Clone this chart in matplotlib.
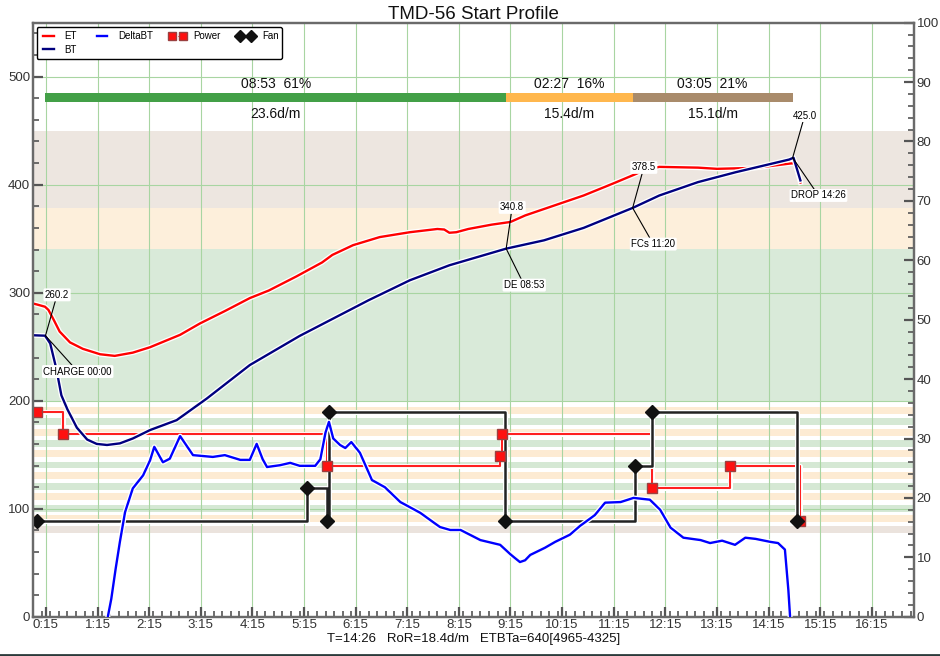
import matplotlib
matplotlib.use("Agg")
import matplotlib.pyplot as plt
import matplotlib.patheffects as pe
from matplotlib.ticker import MultipleLocator, FuncFormatter
from matplotlib.lines import Line2D

plt.rcParams['font.family'] = ['Liberation Sans', 'DejaVu Sans']

# --- curves (time in seconds) ---
et_time = [0, 5, 14, 18, 24, 31, 43, 58, 78, 95, 116, 136, 171, 194, 223, 252, 274, 306, 336, 348,
           372, 403, 438, 470, 478, 484, 492, 506, 533, 555, 572, 594, 640, 674, 701, 712, 728, 773,
           795, 840, 879, 886, 892]
et_temp = [290, 289, 287, 284, 275, 264, 254, 248, 243, 241.5, 244.5, 249.5, 261, 271.5, 283, 295, 302,
           315, 328, 335, 344, 351.5, 356, 359, 358.5, 355.5, 356, 359, 363, 365.5, 371.5, 377.5, 390,
           401, 410, 414, 416.5, 415.8, 414.7, 415.6, 419.5, 420, 402]

bt_time = [0, 14, 20, 27, 33, 40, 51, 63, 74, 86, 101, 116, 136, 167, 202, 252, 310, 390, 438, 484,
           550, 594, 640, 697, 728, 773, 817, 879, 884, 892]
bt_temp = [260.6, 260.2, 253, 230, 205, 192, 175, 164, 160, 159, 160.5, 165, 172.8, 182, 202, 233, 260,
           293, 311.5, 325.4, 340.8, 348.5, 360, 378.5, 390, 402.4, 411.6, 423.3, 425, 404]

ror_time = [87, 91, 96, 101, 107, 116, 128, 136, 141, 151, 159, 171, 186, 209, 223, 241, 252, 260, 267,
            272, 287, 299, 310, 328, 334, 340, 344, 349, 357, 363, 370, 380, 394, 409, 427, 450, 473,
            485, 497, 520, 543, 555, 560, 566, 572, 578, 595, 607, 624, 636, 653, 665, 683, 698, 717,
            729, 741, 756, 776, 787, 801, 816, 828, 840, 857, 866, 874, 878, 880]
ror_val = [0, 3, 8, 12.6, 17.6, 21.6, 23.8, 26.3, 28.6, 26, 26.6, 30.4, 27.2, 26.9, 27.2, 26.4, 26.4,
           29.1, 26.5, 25.2, 25.5, 25.9, 25.4, 25.4, 26.5, 31, 32.8, 30, 28.9, 28.4, 29.4, 27.6, 23,
           21.8, 19.3, 17.5, 15.1, 14.6, 14.6, 12.9, 12.1, 10.5, 9.9, 9.2, 9.5, 10.4, 11.6, 12.6, 13.8,
           15.3, 17.1, 19.2, 19.3, 20, 19.7, 18, 15, 13.3, 12.9, 12.4, 12.8, 12.1, 13.3, 13.1, 12.6,
           12.4, 11.3, 4.5, 0]

# --- events (percent) ---
power_time = [5, 35, 342, 543, 545, 719, 810, 892]
power_val = [100, 80, 50, 60, 80, 30, 50, 0]
fan_time = [5, 319, 342, 344, 549, 700, 720, 888]
fan_val = [0, 30, 0, 100, 0, 50, 100, 0]
event_offset = 88.6
event_scale = 1.01

# --- roast events ---
ev_names = ["CHARGE 00:00", "DE 08:53", "FCs 11:20", "DROP 14:26"]
ev_time = [14.5, 550, 697, 883]
ev_temp = [260.2, 340.8, 378.5, 425.0]
ev_temp_txt = [(28, 298), (557, 379), (710, 416), (897, 464)]
ev_name_txt = [(52, 227), (571, 307), (721, 345), (913, 390)]

# --- phases ---
phase_start = [14.5, 550, 697]
phase_end = [550, 697, 883]
phase_colors = ["#43a047", "#ffb74d", "#a98b6b"]
phase_top = ["08:53  61%", "02:27  16%", "03:05  21%"]
phase_bottom = ["23.6d/m", "15.4d/m", "15.1d/m"]

band_limits = [200, 340.8, 378.5, 450]
band_colors = ["#d9ead9", "#fdefdb", "#ede6e0"]
stripe_centers = [81, 91, 100.5, 111, 120.5, 131, 140.5, 151, 160.5, 170.5, 180.5, 191]

fig = plt.figure(figsize=(9.4, 6.56), dpi=100)
ax = fig.add_axes([0.0351, 0.0599, 0.9372, 0.9055])
ax.set_xlim(0, 1024)
ax.set_ylim(0, 550)
ax.set_axisbelow(True)

# background bands
for i in range(3):
    ax.axhspan(band_limits[i], band_limits[i + 1], color=band_colors[i], lw=0, zorder=0.2)
for i, c in enumerate(stripe_centers):
    col = "#ebe3dd" if i == 0 else ("#fdebd3" if i % 2 == 1 else "#d5e8d4")
    ax.axhspan(c - 3.2, c + 3.2, color=col, lw=0, zorder=0.2)

ax.grid(True, which="major", color="#a8d5a2", lw=0.8)

glow = [pe.withStroke(linewidth=3.6, foreground="white")]

# phase bar
for s, e, c, t1, t2 in zip(phase_start, phase_end, phase_colors, phase_top, phase_bottom):
    ax.broken_barh([(s, e - s)], (476.7, 7.8), facecolors=c, zorder=3)
    ax.text((s + e) / 2, 493, t1, ha="center", va="center", fontsize=10, color="#111")
    ax.text((s + e) / 2, 465.5, t2, ha="center", va="center", fontsize=10, color="#111")

# events
pw = [event_offset + v * event_scale for v in power_val]
fn = [event_offset + v * event_scale for v in fan_val]
ax.plot(power_time, pw, drawstyle="steps-post", color="#ff2020", lw=1.5, zorder=4, path_effects=glow)
ax.plot(power_time, pw, ls="none", marker="s", ms=7, mfc="#ff1010", mec="#9a4040", mew=1, zorder=5)
ax.plot(fan_time, fn, drawstyle="steps-post", color="#222222", lw=1.8, zorder=4, path_effects=glow)
ax.plot(fan_time, fn, ls="none", marker="D", ms=7, mfc="#111111", mec="#111111", zorder=5)

# curves
ax.plot(et_time, et_temp, color="#ff0000", lw=1.7, zorder=6, path_effects=glow)
ax.plot(bt_time, bt_temp, color="#00007f", lw=1.7, zorder=6, path_effects=glow)

# annotations
for name, t, temp, p1, p2 in zip(ev_names, ev_time, ev_temp, ev_temp_txt, ev_name_txt):
    box = dict(boxstyle="round,pad=0.15", fc="white", ec="none")
    ax.annotate(f"{temp:.1f}", xy=(t, temp), xytext=p1, ha="center", va="center", fontsize=7,
                bbox=box, arrowprops=dict(arrowstyle="-", color="black", lw=0.8, shrinkA=0, shrinkB=0),
                zorder=8)
    ax.annotate(name, xy=(t, temp), xytext=p2, ha="center", va="center", fontsize=7,
                bbox=box, arrowprops=dict(arrowstyle="-", color="black", lw=0.8, shrinkA=0, shrinkB=0),
                zorder=8)

# axis styling
ax.set_xticks([15 + 60 * k for k in range(17)])
ax.xaxis.set_minor_locator(MultipleLocator(10))
ax.xaxis.set_major_formatter(FuncFormatter(lambda t, p: f"{int(t // 60)}:{int(t % 60):02d}"))
ax.yaxis.set_major_locator(MultipleLocator(100))
ax.yaxis.set_minor_locator(MultipleLocator(20))
ax.set_ylim(0, 550)
ax.set_xlim(0, 1024)

ax2 = ax.twinx()
ax2.set_ylim(0, 100)
ax2.yaxis.set_major_locator(MultipleLocator(10))
ax2.yaxis.set_minor_locator(MultipleLocator(2))
ax2.plot(ror_time, ror_val, color="#0000ff", lw=1.7, zorder=6, path_effects=glow)

for a in (ax, ax2):
    a.tick_params(which="major", direction="in", length=7, width=1.6, color="#555555",
                  labelsize=9.5, labelcolor="#333333", pad=2)
    a.tick_params(which="minor", direction="in", length=4, width=1.2, color="#555555")
    for sp in a.spines.values():
        sp.set_color("#6a6a6a")
        sp.set_linewidth(1.6)

ax.set_title("TMD-56 Start Profile", fontsize=13.5, pad=3, color="#111")
ax.set_xlabel("T=14:26   RoR=18.4d/m   ETBTa=640[4965-4325]", fontsize=9.5, labelpad=1, color="#111")

handles = [
    Line2D([], [], color="#ff0000", lw=1.7),
    Line2D([], [], color="#00007f", lw=1.7),
    Line2D([], [], color="#0000ff", lw=1.7),
    Line2D([], [], color="#ff2020", lw=0.8, ls=":", marker="s", ms=6, mfc="#ff1010", mec="#9a4040"),
    Line2D([], [], color="#222222", lw=0.8, ls=":", marker="D", ms=6, mfc="#111111", mec="#111111"),
]
labels = ["ET", "BT", "DeltaBT", "Power", "Fan"]
leg = ax2.legend(handles, labels, loc="upper left", bbox_to_anchor=(0.004, 0.992), borderaxespad=0,
                 ncol=4, fontsize=7, numpoints=2, handlelength=1.7, columnspacing=1.7,
                 labelspacing=0.35, handletextpad=0.8, fancybox=True, framealpha=1, edgecolor="black")
leg.get_frame().set_linewidth(1.0)

fig.add_artist(Line2D([0, 1], [0.002, 0.002], color="#2b3b3b", lw=2, transform=fig.transFigure))

fig.savefig("out.png", dpi=100)
